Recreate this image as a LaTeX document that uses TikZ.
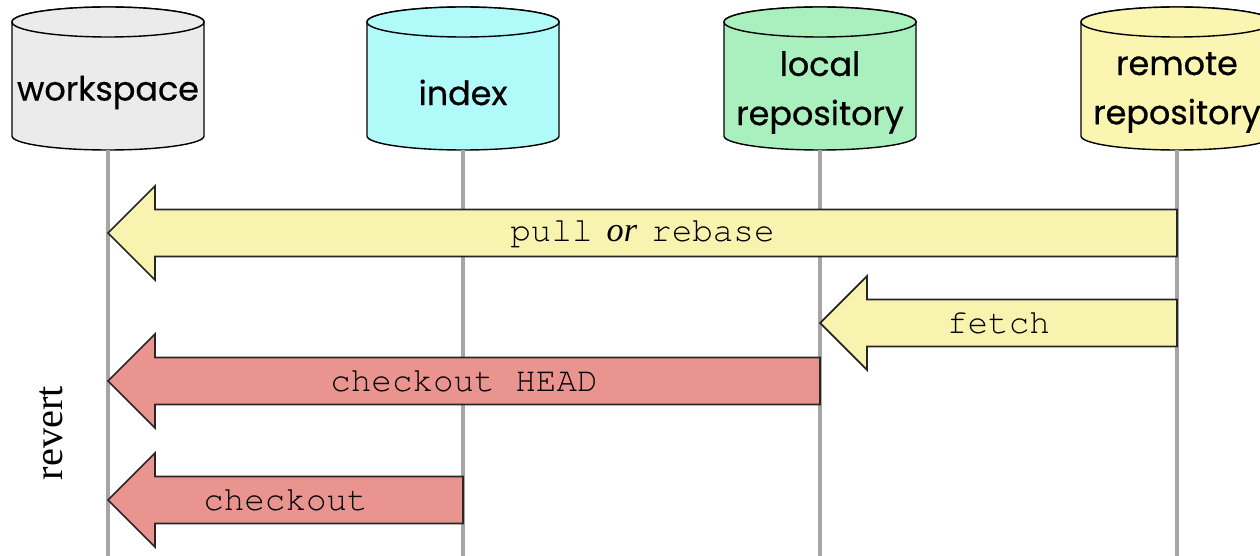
\documentclass[tikz,border=0pt]{standalone}
\usepackage[T1]{fontenc}
\usepackage{fontspec}
\setmainfont{Liberation Serif}
\newfontfamily\storefont[FakeBold=0.6]{Poppins}
\newcommand{\cmdfont}{\fontencoding{T1}\fontfamily{pcr}\selectfont}
\usetikzlibrary{calc}
\definecolor{wsgray}{RGB}{235,235,235}
\definecolor{idxcyan}{RGB}{176,250,250}
\definecolor{locgreen}{RGB}{170,240,190}
\definecolor{remyellow}{RGB}{250,245,176}
\definecolor{fetchyellow}{RGB}{248,244,176}
\definecolor{revertpink}{RGB}{234,148,144}
\definecolor{linegray}{RGB}{166,166,166}
\tikzset{
	store/.style = {draw = black, line width = 0.8pt},
	storelabel/.style = {align = center, inner sep = 0pt,
		font = \storefont\fontsize{19}{28}\selectfont},
	lifeline/.style = {draw = linegray, line width = 2.6pt},
	flow/.style = {draw = black!85, line width = 1pt},
	flowlabel/.style = {font = \fontsize{19.5}{22}\cmdfont, inner sep = 0},
}
% tail, tip, colour, label
\newcommand{\flowarrow}[4]{%
	\draw[flow, fill = #3] ($(#1)+(0,0.47)$) -- ($(#2)+(0.94,0.47)$)
		-- ($(#2)+(0.94,0.94)$) -- (#2) -- ($(#2)+(0.94,-0.94)$)
		-- ($(#2)+(0.94,-0.47)$) -- ($(#1)+(0,-0.47)$) -- cycle;
	\path (#1) -- node[flowlabel] {#4} (#2);
}

\begin{document}
\begin{tikzpicture}
\useasboundingbox (0,0) rectangle (25.2,-11.12);
\coordinate (end) at (0,-11.12);

% the four stores
\foreach \x/\c in {2.16/wsgray, 9.26/idxcyan, 16.4/locgreen, 23.54/remyellow} {
	\draw[store, fill = \c] (\x-1.92,-0.44) -- (\x-1.92,-2.72)
		arc[start angle = 180, end angle = 360, x radius = 1.92, y radius = 0.28]
		-- (\x+1.92,-0.44)
		arc[start angle = 0, end angle = 180, x radius = 1.92, y radius = 0.3] -- cycle;
	\draw[store, fill = \c] (\x,-0.44) ellipse[x radius = 1.92, y radius = 0.3];
}
\coordinate (ws) at (2.16,-3.0);
\coordinate (idx) at (9.26,-3.0);
\coordinate (loc) at (16.4,-3.0);
\coordinate (rem) at (23.54,-3.0);
\node[storelabel] (ws label) at (ws |- 0,-1.85) {workspace};
\node[storelabel] (idx label) at (idx |- 0,-1.85) {index};
\node[storelabel] (loc label) at (loc |- 0,-1.85) {local\\repository};
\node[storelabel] (rem label) at (rem |- 0,-1.85) {remote\\repository};

% lifelines
\foreach \s in {ws, idx, loc, rem}
	\draw[lifeline] (\s) -- (\s |- end);

% commands
\coordinate (pull tail) at (rem |- 0,-4.66);
\coordinate (pull tip) at (ws |- 0,-4.66);
\coordinate (fetch tail) at (rem |- 0,-6.46);
\coordinate (fetch tip) at (loc |- 0,-6.46);
\coordinate (head tail) at (loc |- 0,-7.62);
\coordinate (head tip) at (ws |- 0,-7.62);
\coordinate (co tail) at (idx |- 0,-10.0);
\coordinate (co tip) at (ws |- 0,-10.0);

\flowarrow{pull tail}{pull tip}{fetchyellow}{pull\hspace{8pt}{\fontencoding{TU}\rmfamily\itshape or}\hspace{8pt}rebase}
\flowarrow{fetch tail}{fetch tip}{fetchyellow}{fetch}
\flowarrow{head tail}{head tip}{revertpink}{checkout HEAD}
\flowarrow{co tail}{co tip}{revertpink}{checkout}

\node[rotate = 90, font = \fontsize{23}{26}\selectfont] (revert) at (1.02,-8.66) {revert};
\end{tikzpicture}
\end{document}
